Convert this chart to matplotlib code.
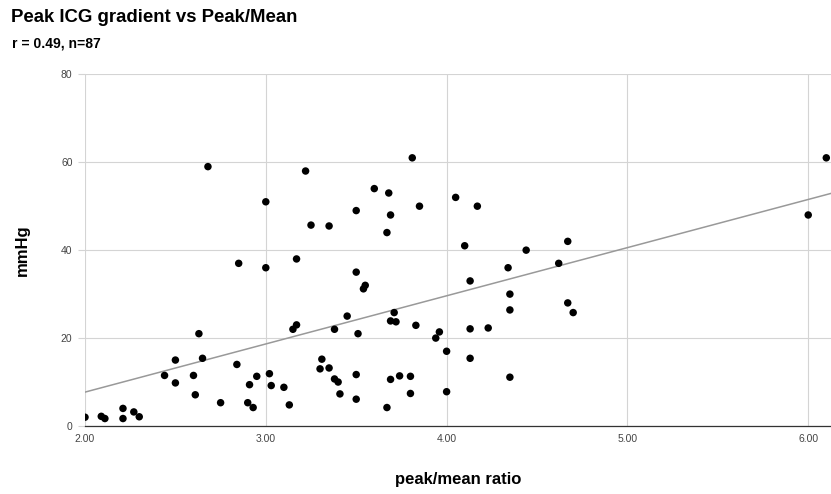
import matplotlib.pyplot as plt
import numpy as np

# ---- data ----
peak_mean = [
    2.68, 3.22, 3.00, 3.25, 3.17, 2.85, 3.00, 2.63, 3.15, 3.17,
    2.50, 2.65, 2.84, 2.44, 2.60, 2.50, 2.61, 2.75, 2.95, 2.91,
    2.90, 2.93, 3.02, 3.03, 3.10, 3.13, 2.00, 2.09, 2.11, 2.21,
    2.21, 2.27, 2.30, 3.81, 3.60, 3.68, 4.05, 3.50, 3.69, 3.85,
    4.17, 3.35, 3.67, 4.10, 4.44, 4.34, 4.62, 4.13, 3.50, 3.55,
    3.54, 4.35, 4.35, 3.45, 3.71, 3.69, 3.72, 3.83, 3.38, 3.51,
    3.96, 3.94, 4.13, 4.23, 4.00, 4.13, 3.31, 3.30, 3.35, 3.38,
    3.40, 3.50, 3.69, 3.74, 3.80, 4.35, 3.41, 3.50, 3.80, 4.00,
    3.67, 4.67, 6.10, 6.00, 4.67, 4.70,
]
icg_gradient = [
    59.0, 58.0, 51.0, 45.7, 38.0, 37.0, 36.0, 21.0, 22.0, 23.0,
    15.0, 15.4, 14.0, 11.5, 11.5, 9.8, 7.1, 5.3, 11.3, 9.4,
    5.3, 4.2, 11.9, 9.2, 8.8, 4.8, 2.0, 2.2, 1.7, 4.0,
    1.7, 3.2, 2.1, 61.0, 54.0, 53.0, 52.0, 49.0, 48.0, 50.0,
    50.0, 45.5, 44.0, 41.0, 40.0, 36.0, 37.0, 33.0, 35.0, 32.0,
    31.2, 30.0, 26.4, 25.0, 25.8, 23.9, 23.7, 22.9, 22.0, 21.0,
    21.4, 20.0, 22.1, 22.3, 17.0, 15.4, 15.2, 13.0, 13.2, 10.7,
    10.0, 11.7, 10.6, 11.4, 11.3, 11.1, 7.3, 6.1, 7.4, 7.8,
    4.2, 42.0, 61.0, 48.0, 28.0, 25.8,
]
x_ticks = [2.0, 3.0, 4.0, 5.0, 6.0]
y_ticks = [0, 20, 40, 60, 80]

plt.rcParams['font.family'] = ['Liberation Sans', 'DejaVu Sans']

fig = plt.figure(figsize=(8.31, 4.94), dpi=100)
ax = fig.add_axes([85 / 831, 1 - 426 / 494, 746 / 831, (426 - 74.3) / 494])

x = np.array(peak_mean)
y = np.array(icg_gradient)

# linear trendline
slope, intercept = np.polyfit(x, y, 1)
x_max = 6.126
xs = np.array([2.0, x_max])
ax.plot(xs, slope * xs + intercept, color='#999999', linewidth=1.1, zorder=2)

ax.scatter(x, y, s=29, color='black', edgecolors='none', zorder=3)

ax.set_xlim(2.0, x_max)
ax.set_ylim(0, 80)
ax.set_xticks(x_ticks)
ax.set_xticklabels(['%.2f' % t for t in x_ticks])
ax.set_yticks(y_ticks)

ax.grid(True, color='#d4d4d4', linewidth=0.8, zorder=0)
ax.set_axisbelow(True)
for side in ['top', 'right', 'left']:
    ax.spines[side].set_visible(False)
ax.spines['bottom'].set_color('#333333')
ax.spines['bottom'].set_linewidth(0.9)
ax.spines['bottom'].set_zorder(1)

ax.tick_params(axis='x', length=0, pad=6, labelsize=7.5, labelcolor='#444444')
ax.tick_params(axis='y', length=5, color='#d4d4d4', width=0.8, pad=4,
               labelsize=7.5, labelcolor='#444444')

ax.set_xlabel('peak/mean ratio', fontsize=12, fontweight='bold', labelpad=20)
ax.set_ylabel('mmHg', fontsize=12, fontweight='bold', labelpad=22)

fig.text(11 / 831, 1 - 21.7 / 494, 'Peak ICG gradient vs Peak/Mean',
         fontsize=13.4, fontweight='bold', va='baseline', ha='left')
fig.text(12 / 831, 1 - 47.5 / 494, 'r = 0.49, n=87',
         fontsize=10, fontweight='bold', va='baseline', ha='left')

fig.savefig('out.png', dpi=100)
